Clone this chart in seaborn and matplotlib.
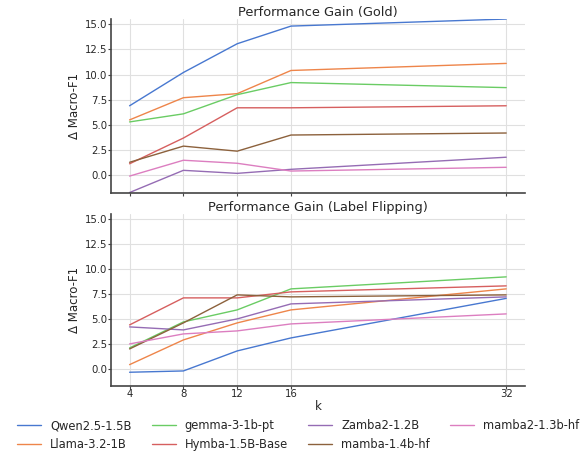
import matplotlib
matplotlib.use("Agg")
import matplotlib.pyplot as plt
import seaborn as sns
import pandas as pd

k_values = [4, 8, 12, 16, 32]
models = ["Qwen2.5-1.5B", "Llama-3.2-1B", "gemma-3-1b-pt", "Hymba-1.5B-Base",
          "Zamba2-1.2B", "mamba-1.4b-hf", "mamba2-1.3b-hf"]

# Gain in macro-F1 with gold labels
gold_qwen = [6.9, 10.2, 13.05, 14.8, 15.5]
gold_llama = [5.5, 7.7, 8.1, 10.4, 11.1]
gold_gemma = [5.3, 6.1, 8.0, 9.2, 8.7]
gold_hymba = [1.15, 3.7, 6.7, 6.7, 6.9]
gold_zamba = [-1.7, 0.5, 0.2, 0.6, 1.8]
gold_mamba = [1.3, 2.9, 2.4, 4.0, 4.2]
gold_mamba2 = [-0.07, 1.5, 1.2, 0.43, 0.8]

# Gain in macro-F1 with flipped labels
flip_qwen = [-0.33, -0.2, 1.8, 3.1, 7.05]
flip_llama = [0.43, 2.9, 4.6, 5.9, 8.0]
flip_gemma = [2.1, 4.7, 5.9, 8.0, 9.2]
flip_hymba = [4.4, 7.1, 7.1, 7.7, 8.3]
flip_zamba = [4.2, 3.9, 5.0, 6.5, 7.2]
flip_mamba = [2.0, 4.6, 7.4, 7.2, 7.4]
flip_mamba2 = [2.5, 3.5, 3.8, 4.5, 5.5]

gold = [gold_qwen, gold_llama, gold_gemma, gold_hymba, gold_zamba, gold_mamba, gold_mamba2]
flip = [flip_qwen, flip_llama, flip_gemma, flip_hymba, flip_zamba, flip_mamba, flip_mamba2]


def to_frame(series):
    rows = []
    for m, vals in zip(models, series):
        for k, v in zip(k_values, vals):
            rows.append({"k": k, "gain": v, "model": m})
    return pd.DataFrame(rows)


sns.set_theme(style="whitegrid", palette="muted")
plt.rcParams["font.family"] = ["DejaVu Sans"]

fig = plt.figure(figsize=(5.86, 4.53), dpi=100)
ax1 = fig.add_axes([0.189, 0.575, 0.707, 0.383])
ax2 = fig.add_axes([0.189, 0.148, 0.707, 0.380], sharex=ax1, sharey=ax1)

palette = sns.color_palette("muted", 7)
colors = dict(zip(models, palette))

for ax, data, title in [(ax1, gold, "Performance Gain (Gold)"),
                        (ax2, flip, "Performance Gain (Label Flipping)")]:
    sns.lineplot(data=to_frame(data), x="k", y="gain", hue="model",
                 hue_order=models, palette=colors, ax=ax, linewidth=1.0,
                 legend=(ax is ax2))
    ax.set_title(title, fontsize=9.25, pad=2)
    ax.set_ylabel("Δ Macro-F1", fontsize=8.5, labelpad=3)
    ax.tick_params(labelsize=7.3, length=2, width=0.8, pad=0.5,
                   color="#444444", bottom=True, left=True)
    ax.grid(True, color="#e0e0e0", linewidth=0.8)
    for side in ("top", "right"):
        ax.spines[side].set_visible(False)
    for side in ("left", "bottom"):
        ax.spines[side].set_color("#444444")
        ax.spines[side].set_linewidth(1.2)

ax1.set_xlabel("")
ax1.tick_params(labelbottom=False)
ax2.set_xlabel("k", fontsize=8.5, labelpad=0.5)
ax1.set_xticks(k_values)
ax1.set_yticks([0.0, 2.5, 5.0, 7.5, 10.0, 12.5, 15.0])
ax1.set_ylim(-1.7, 15.5)

handles, labels = ax2.get_legend_handles_labels()
ax2.get_legend().remove()
fig.legend(handles, labels, loc="upper center", ncol=4, fontsize=8.3,
           frameon=False, bbox_to_anchor=(0.509, 0.0845), columnspacing=1.75,
           handlelength=2.07, handletextpad=0.78, borderaxespad=0,
           labelspacing=0.5)

fig.savefig("out.png", dpi=100)
